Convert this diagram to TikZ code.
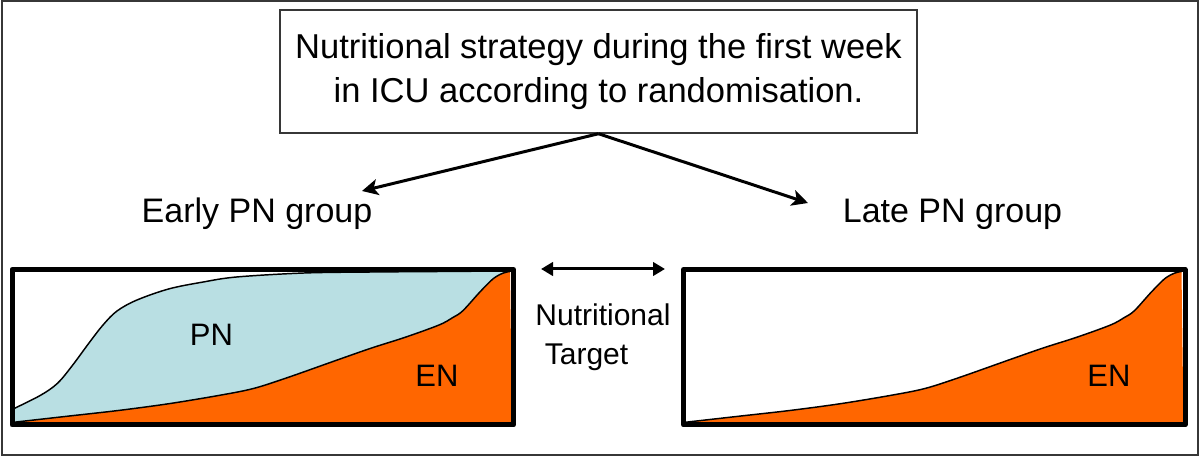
\documentclass[tikz,border=0pt]{standalone}
\usepackage{fontspec}
\setmainfont{Liberation Sans}
\usetikzlibrary{arrows.meta}
\definecolor{pnblue}{RGB}{185,223,227}
\definecolor{enorange}{RGB}{255,102,0}
\definecolor{framegray}{RGB}{55,55,55}
\begin{document}
\begin{tikzpicture}[x=0.75pt,y=-0.75pt,
  bigtxt/.style={inner sep=0pt, font=\fontsize{25.5pt}{30pt}\selectfont},
  midtxt/.style={inner sep=0pt, font=\fontsize{23.25pt}{28pt}\selectfont},
  smalltxt/.style={inner sep=0pt, font=\fontsize{22.5pt}{27pt}\selectfont},
  titlebox/.style={draw=framegray, line width=1.1pt, minimum width=477.75pt, minimum height=92.25pt, align=center, inner sep=0pt, font=\fontsize{25.9pt}{33pt}\selectfont},
  panel/.style={draw=black, line width=3.75pt, line join=round},
  curve/.style={draw=black, line width=1.1pt},
  splitarrow/.style={draw=black, line width=2.25pt, -{Stealth[length=12pt,width=12pt,inset=3pt]}},
  targetarrow/.style={draw=black, line width=2.25pt, {Triangle[length=9pt,width=10pt]}-{Triangle[length=9pt,width=10pt]}}]
\useasboundingbox (0,0) rectangle (1200,459);
\draw[framegray, line width=1.5pt] (2,1.5) rectangle (1197.5,455);

% title box
\node[titlebox] (title) at (598.5,71.5) {Nutritional strategy during the first week\\in ICU according to randomisation.};
\coordinate (eTip) at (362,191);
\coordinate (lTip) at (808,203);
\draw[splitarrow] (title.south) -- (eTip);
\draw[splitarrow] (title.south) -- (lTip);

\node[bigtxt, anchor=base] (early) at (257,223) {Early PN group};
\node[bigtxt, anchor=base] (late) at (952.5,223) {Late PN group};

% left panel
\fill[pnblue] plot[smooth, tension=0.55] coordinates {(13.5,408.8) (40.5,395.3) (57.4,383.4) (72,366) (89,343) (103,325) (117,311) (137,300) (168.9,288.9) (202.7,282.1) (236.5,277) (304,273) (371.6,272) (440,271.5) (508,271)} -- (512,425) -- (13.5,425) -- cycle;
\fill[enorange] plot[smooth, tension=0.55] coordinates {(13.5,422.3) (67.6,416.2) (118.2,410.5) (168.9,403.7) (219.6,395.3) (253.4,388.5) (287.2,377.7) (337.8,359.8) (371.6,348) (405.4,337.2) (439,325) (452.7,317.6) (462.8,310.8) (479.7,292.2) (493.2,278.7) (503.4,273) (510,271.5)} -- (512,425) -- (13.5,425) -- cycle;
\draw[curve] plot[smooth, tension=0.55] coordinates {(13.5,408.8) (40.5,395.3) (57.4,383.4) (72,366) (89,343) (103,325) (117,311) (137,300) (168.9,288.9) (202.7,282.1) (236.5,277) (304,273) (371.6,272) (440,271.5) (508,271)};
\draw[curve] plot[smooth, tension=0.55] coordinates {(13.5,422.3) (67.6,416.2) (118.2,410.5) (168.9,403.7) (219.6,395.3) (253.4,388.5) (287.2,377.7) (337.8,359.8) (371.6,348) (405.4,337.2) (439,325) (452.7,317.6) (462.8,310.8) (479.7,292.2) (493.2,278.7) (503.4,273) (510,271.5)};
\draw[panel] (12,269.5) rectangle (513.5,425);
\node[midtxt, anchor=base] (pnL) at (211.5,346) {PN};
\node[midtxt, anchor=base] (enL) at (437,387) {EN};

% right panel
\begin{scope}[shift={(671.5,0)}]
\fill[enorange] plot[smooth, tension=0.55] coordinates {(13.5,422.3) (67.6,416.2) (118.2,410.5) (168.9,403.7) (219.6,395.3) (253.4,388.5) (287.2,377.7) (337.8,359.8) (371.6,348) (405.4,337.2) (439,325) (452.7,317.6) (462.8,310.8) (479.7,292.2) (493.2,278.7) (503.4,273) (510,271.5)} -- (512,425) -- (13.5,425) -- cycle;
\draw[curve] plot[smooth, tension=0.55] coordinates {(13.5,422.3) (67.6,416.2) (118.2,410.5) (168.9,403.7) (219.6,395.3) (253.4,388.5) (287.2,377.7) (337.8,359.8) (371.6,348) (405.4,337.2) (439,325) (452.7,317.6) (462.8,310.8) (479.7,292.2) (493.2,278.7) (503.4,273) (510,271.5)};
\draw[panel] (12,269.5) rectangle (513.5,425);
\end{scope}
\node[midtxt, anchor=base] (enR) at (1109,387) {EN};

% nutritional target
\coordinate (ntL) at (541,269);
\coordinate (ntR) at (665,269);
\draw[targetarrow] (ntL) -- (ntR);
\node[smalltxt, anchor=base] (nut) at (603,326) {Nutritional};
\node[smalltxt, anchor=base] (tgt) at (586.5,365) {Target};
\end{tikzpicture}
\end{document}
